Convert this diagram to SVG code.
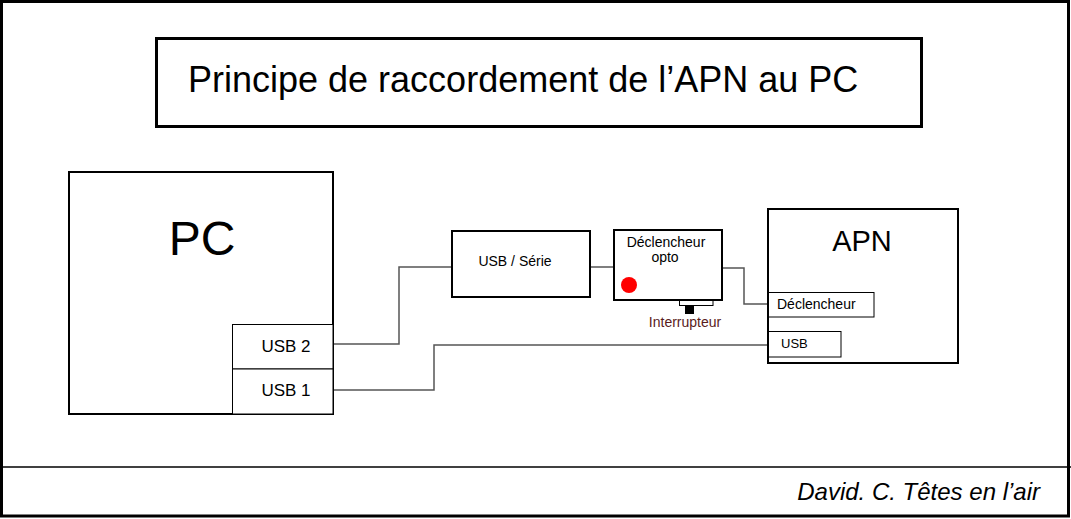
<svg xmlns="http://www.w3.org/2000/svg" width="1071" height="519" viewBox="0 0 1071 519">
<style>
.box{fill:#fff;stroke:#000;stroke-width:2}
.thin{fill:#fff;stroke:#000;stroke-width:1}
.t{font-family:"Liberation Sans",Arial,sans-serif;fill:#000}
.wire{fill:none;stroke:#555;stroke-width:1.5}
</style>
<rect x="0" y="0" width="1071" height="519" fill="#fff"/>
<rect x="1.5" y="1.5" width="1067" height="514.5" fill="none" stroke="#000" stroke-width="3"/>
<line x1="0" y1="467" x2="1071" y2="467" stroke="#000" stroke-width="1.5"/>
<g id="title">
<rect x="156.5" y="38.5" width="765" height="88" fill="#fff" stroke="#000" stroke-width="3"/>
<text class="t" x="188" y="92" font-size="36">Principe de raccordement de l’APN au PC</text>
</g>
<g id="connectors">
<polyline class="wire" points="333,344 399,344 399,267 452,267"/>
<polyline class="wire" points="333,390 434,390 434,345 768,345"/>
<line class="wire" x1="590" y1="267" x2="614" y2="267"/>
<polyline class="wire" points="722,268 744,268 744,304 768,304"/>
</g>
<g id="pc">
<rect class="box" x="69" y="172" width="264" height="242"/>
<text class="t" x="202" y="255" font-size="48" text-anchor="middle">PC</text>
</g>
<g id="usb2">
<rect class="thin" x="232.5" y="324.5" width="100.5" height="44.5"/>
<text class="t" x="286" y="352" font-size="17" text-anchor="middle">USB 2</text>
</g>
<g id="usb1">
<rect class="thin" x="232.5" y="369" width="100.5" height="45"/>
<text class="t" x="286" y="396" font-size="17" text-anchor="middle">USB 1</text>
</g>
<g id="usbserie">
<rect class="box" x="452" y="231" width="138" height="66"/>
<text class="t" x="515" y="266" font-size="14" text-anchor="middle">USB / Série</text>
</g>
<g id="opto">
<rect class="thin" x="679.5" y="300.5" width="33.5" height="5"/>
<rect x="685" y="306" width="9" height="8" fill="#000"/>
<rect class="box" x="614" y="230" width="108" height="70"/>
<text class="t" x="666" y="247" font-size="14" text-anchor="middle">Déclencheur</text>
<text class="t" x="665" y="262" font-size="14" text-anchor="middle">opto</text>
<circle cx="629" cy="285" r="8" fill="#f00"/>
<text x="685" y="327" font-size="14" text-anchor="middle" font-family="Liberation Sans, Arial, sans-serif" fill="#5a1c1c">Interrupteur</text>
</g>
<g id="apn">
<rect class="box" x="768" y="209" width="190" height="154"/>
<text class="t" x="862" y="251" font-size="29" text-anchor="middle">APN</text>
</g>
<g id="declencheur">
<rect class="thin" x="768.5" y="292.5" width="105.5" height="24.5"/>
<text class="t" x="777" y="309" font-size="14">Déclencheur</text>
</g>
<g id="usb">
<rect class="thin" x="768.5" y="331.5" width="72.5" height="25.5"/>
<text class="t" x="781" y="348" font-size="13">USB</text>
</g>
<text class="t" x="1040" y="500" font-size="24" font-style="italic" text-anchor="end">David. C. Têtes en l’air</text>
</svg>
